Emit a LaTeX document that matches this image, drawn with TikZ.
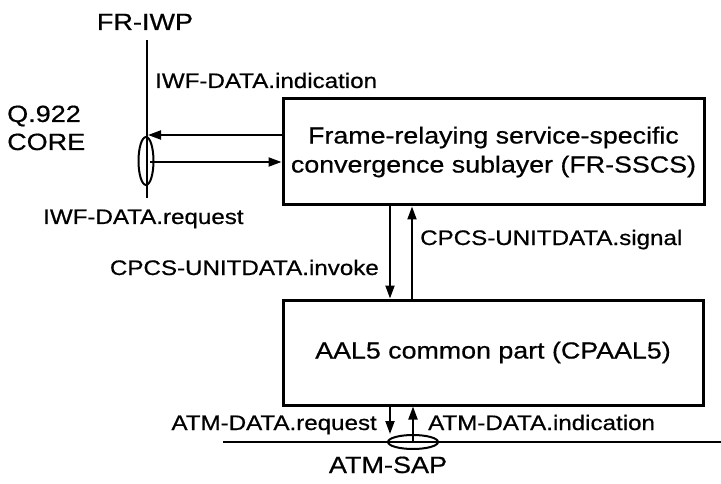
\documentclass[tikz,border=0pt]{standalone}
\usepackage{fontspec}
\setmainfont[FakeStretch=1.15,FakeBold=0.6]{Liberation Sans}
\usetikzlibrary{arrows.meta}
\begin{document}
\begin{tikzpicture}[x=1pt,y=-1pt,
  box/.style={draw,line width=3pt,inner sep=0pt,align=center,font=\fontsize{23.3}{29}\selectfont},
  lbl/.style={inner sep=0pt,font=\fontsize{21}{25}\selectfont},
  ttl/.style={inner sep=0pt,font=\fontsize{23.5}{28}\selectfont},
  arr/.style={line width=2pt,-{Triangle[length=13pt,width=9pt]}},
  ln/.style={line width=2pt}]
\useasboundingbox (0,0) rectangle (721,484);
% boxes
\node[box,minimum width=421pt,minimum height=106pt] (sscs) at (493.5,152)
  {Frame-relaying service-specific\\convergence sublayer (FR-SSCS)};
\node[box,minimum width=420pt,minimum height=105pt] (cp) at (493,352.5)
  {\raisebox{-2pt}{AAL5 common part (CPAAL5)}};
% titles
\node[ttl,anchor=base] (fr) at (145,30) {FR-IWP};
\node[ttl,anchor=base west] (q) at (7,122) {Q.922};
\node[ttl,anchor=base west] (core) at (7,150) {CORE};
\node[ttl,anchor=base] (sap) at (388,473) {ATM-SAP};
% labels
\node[lbl,anchor=base west] (ind) at (155,88) {IWF-DATA.indication};
\node[lbl,anchor=base west] (req) at (43,224) {IWF-DATA.request};
\node[lbl,anchor=base west] (sig) at (420,245) {CPCS-UNITDATA.signal};
\node[lbl,anchor=base east] (inv) at (379,275) {CPCS-UNITDATA.invoke};
\node[lbl,anchor=base east] (areq) at (377,430) {ATM-DATA.request};
\node[lbl,anchor=base west] (aind) at (428,430) {ATM-DATA.indication};
% FR-IWP vertical line and SAP ellipse
\coordinate (vtop) at (147,40);
\coordinate (vbot) at (147,198);
\draw[ln] (vtop) -- (vbot);
\coordinate (qsap) at (146,161);
\draw[ln] (qsap) ellipse [x radius=7.5pt, y radius=24pt];
\coordinate (iin) at (148,135);
\coordinate (iout) at (150,162);
\draw[arr] (iin -| sscs.west) -- (iin);
\draw[arr] (iout) -- (iout -| sscs.west);
% between boxes
\coordinate (dnx) at (390,250);
\coordinate (upx) at (412,250);
\draw[arr] (sscs.south -| dnx) -- (cp.north -| dnx);
\draw[arr] (cp.north -| upx) -- (sscs.south -| upx);
% ATM-SAP
\coordinate (hl) at (223,442);
\coordinate (hr) at (721,442);
\draw[ln] (hl) -- (hr);
\coordinate (asap) at (413,442);
\draw[ln] (asap) ellipse [x radius=25pt, y radius=7pt];
\coordinate (adn) at (390,434);
\draw[arr] (cp.south -| adn) -- (adn);
\draw[arr] (asap) -- (cp.south -| asap);
\end{tikzpicture}
\end{document}
